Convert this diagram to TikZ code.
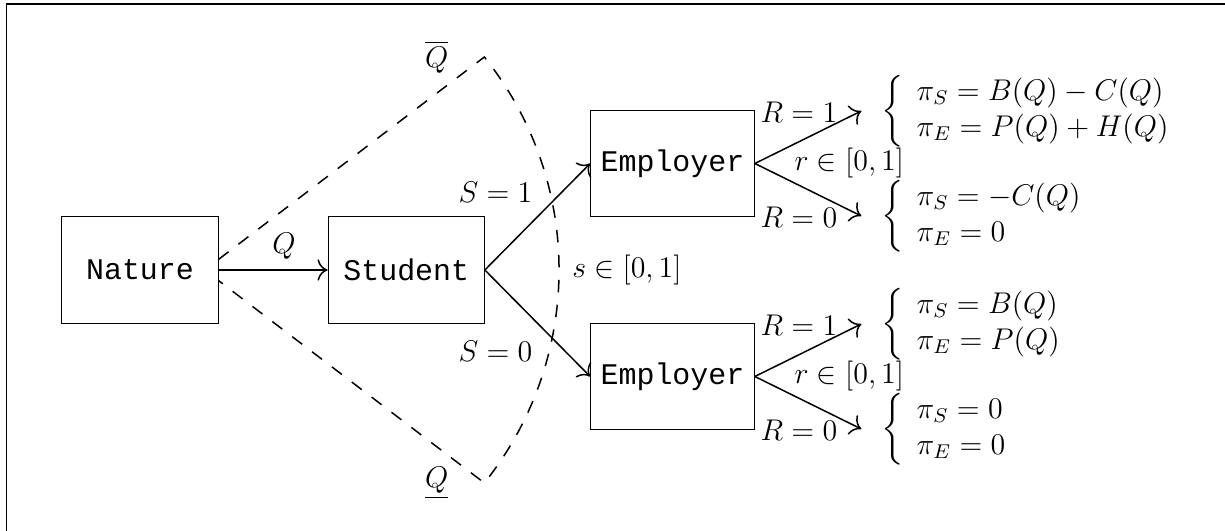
\documentclass[tikz,border=0pt,12pt]{standalone}
\usepackage{amsmath,amssymb}
\usepackage{fontspec}
\setmonofont{Liberation Mono}
\usepackage{tikz}
\usetikzlibrary{positioning,calc,arrows.meta}
\tikzstyle{arrow} = [semithick, -{To[scale=1.4]}]
\tikzstyle{player} = [draw, minimum width=2.2cm, minimum height=1.5cm, font=\ttfamily]
\tikzstyle{qualityrange} = [semithick, dash pattern=on 5pt off 5pt]

\begin{document}
\begin{tikzpicture}
    \useasboundingbox (-1.972,-3.676) rectangle (15.282,3.803);
    % Frame
    \draw[line width=0.6pt] (-1.88,-3.676) -- (-1.88,3.746) -- (15.282,3.746);

    % Players
    \node[player] (nature) at (0,0) {Nature};
    \node[player] (student) at (3.75,0) {Student};
    \node[player] (emp1) at (7.5,1.5) {Employer};
    \node[player] (emp2) at (7.5,-1.5) {Employer};

    % Quality
    \draw[arrow] (nature) -- node[pos=0.6, above] {$Q$} (student);
    \coordinate (qhi) at (4.85,3);
    \coordinate (qlo) at (4.85,-3);
    \draw[qualityrange] ($(nature.east)+(0,0.15)$) -- (qhi)
        arc[start angle=38.66, end angle=-38.66, radius=4.802]
        -- ($(nature.east)+(0,-0.15)$);
    \node[left=0.36cm of qhi] (qmax) {$\overline{Q}$};
    \node[left=0.36cm of qlo] (qmin) {$\underline{Q}$};

    % Signal
    \draw[arrow] (student.east) -- (emp1.west);
    \draw[arrow] (student.east) -- (emp2.west);
    \node (s1) at ($(student.east)+(0.15,1.1)$) {$S=1$};
    \node (s0) at ($(student.east)+(0.15,-1.15)$) {$S=0$};
    \node (s) at ($(student.east)+(2.0,0)$) {$s \in [0,1]$};

    % Recruitment
    \foreach \i in {1,2} {
        \coordinate (hire\i) at ($(emp\i.east)+(1.5,0.74)$);
        \coordinate (fire\i) at ($(emp\i.east)+(1.5,-0.74)$);
        \draw[arrow] (emp\i.east) -- (hire\i);
        \draw[arrow] (emp\i.east) -- (fire\i);
        \node (r1\i) at ($(emp\i.east)+(0.62,0.72)$) {$R=1$};
        \node (r0\i) at ($(emp\i.east)+(0.62,-0.76)$) {$R=0$};
        \node (r\i) at ($(emp\i.east)+(1.33,0)$) {$r \in [0,1]$};
    }

    % Payoffs
    \node[right, xshift=0.14cm] (pay11) at (hire1) {$\left\{\begin{array}{l} \pi_S = B(Q) - C(Q)\\ \pi_E = P(Q) + H(Q)\end{array}\right.$};
    \node[right, xshift=0.14cm] (pay01) at (fire1) {$\left\{\begin{array}{l} \pi_S = -C(Q)\\ \pi_E = 0\end{array}\right.$};
    \node[right, xshift=0.14cm] (pay12) at (hire2) {$\left\{\begin{array}{l} \pi_S = B(Q)\\ \pi_E = P(Q)\end{array}\right.$};
    \node[right, xshift=0.14cm] (pay02) at (fire2) {$\left\{\begin{array}{l} \pi_S = 0\\ \pi_E = 0\end{array}\right.$};
\end{tikzpicture}
\end{document}
